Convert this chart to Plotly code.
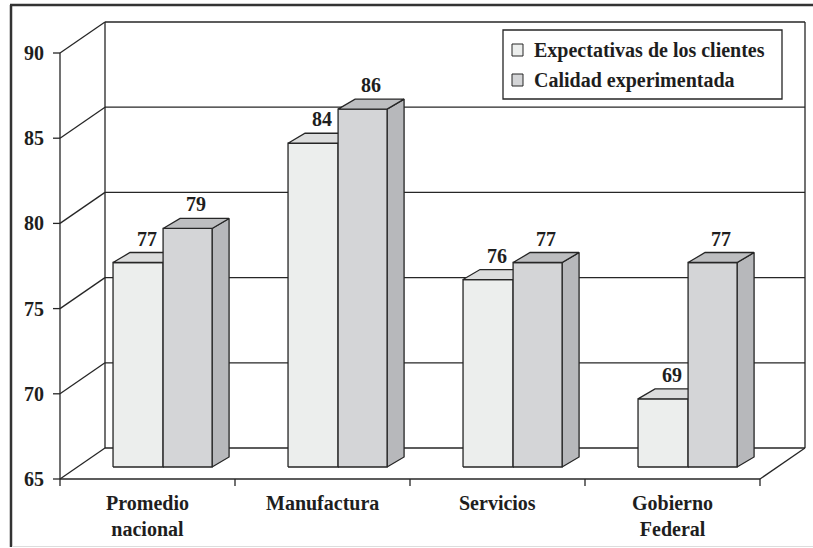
import plotly.graph_objects as go

# ---- data ----
categories = ["Promedio<br>nacional", "Manufactura", "Servicios", "Gobierno<br>Federal"]
expectativas = [77, 84, 76, 69]
calidad = [79, 86, 77, 77]
series_names = ["Expectativas de los clientes", "Calidad experimentada"]
y_ticks = [65, 70, 75, 80, 85, 90]

# ---- geometry of the pseudo-3D box (pixel sizes turned into axis units) ----
W, H = 813, 548
PX_X = 175.0          # pixels per category
PX_Y = 17.04          # pixels per value unit
X0_PX, Y0_PX = 60, 479  # front-left-bottom corner of the box
Y_MIN = y_ticks[0]
Y_MAX = y_ticks[-1]
N = len(categories)

WALL_DX = 45 / PX_X   # depth of the box
WALL_DY = 31 / PX_Y
BAR_LIFT = 12 / PX_Y  # bars stand in the middle of the floor
BAR_DX = 17 / PX_X    # depth of each bar
BAR_DY = 10 / PX_Y
BAR_EDGES = [0.303, 0.589, 0.869]  # left of bar 1, shared edge, right of bar 2

x_range = [-X0_PX / PX_X, (W - X0_PX) / PX_X]
y_range = [Y_MIN - (H - Y0_PX) / PX_Y, Y_MIN + Y0_PX / PX_Y]

LINE = "#262626"
TEXT = "#1e1e1e"
FONT = "Liberation Serif"
FS = 20
FRONT = ["#eceeed", "#d4d5d7"]
TOP = ["#dcdddd", "#bdbec0"]
SIDE = ["#c9cacc", "#b7b8bb"]

fig = go.Figure()


def seg(xs, ys, color=LINE, width=1.3):
    fig.add_trace(go.Scatter(x=xs, y=ys, mode="lines", hoverinfo="skip",
                             line=dict(color=color, width=width), showlegend=False))


def poly(xs, ys, fill):
    fig.add_trace(go.Scatter(x=xs + [xs[0]], y=ys + [ys[0]], mode="lines", fill="toself",
                             fillcolor=fill, hoverinfo="skip",
                             line=dict(color=LINE, width=1.3), showlegend=False))


# back wall and left wall grid
for v in y_ticks:
    seg([WALL_DX, N + WALL_DX], [v + WALL_DY, v + WALL_DY])
    seg([0, WALL_DX], [v, v + WALL_DY])
seg([WALL_DX, WALL_DX], [Y_MIN + WALL_DY, Y_MAX + WALL_DY])
seg([N + WALL_DX, N + WALL_DX], [Y_MIN + WALL_DY, Y_MAX + WALL_DY])
seg([N, N + WALL_DX], [Y_MIN, Y_MIN + WALL_DY])

# bars
for i in range(N):
    for s, vals in enumerate([expectativas, calidad]):
        v = vals[i]
        xl = i + BAR_EDGES[s]
        xr = i + BAR_EDGES[s + 1]
        yb = Y_MIN + BAR_LIFT
        yt = v + BAR_LIFT
        poly([xr, xr + BAR_DX, xr + BAR_DX, xr], [yb, yb + BAR_DY, yt + BAR_DY, yt], SIDE[s])
        poly([xl, xr, xr, xl], [yb, yb, yt, yt], FRONT[s])
        poly([xl, xr, xr + BAR_DX, xl + BAR_DX], [yt, yt, yt + BAR_DY, yt + BAR_DY], TOP[s])
        fig.add_annotation(x=(xl + xr) / 2 + BAR_DX / 2, y=yt + BAR_DY, text=f"<b>{v}</b>",
                           showarrow=False, yanchor="bottom", yshift=1,
                           font=dict(family=FONT, size=FS, color=TEXT))

# front axes
seg([0, 0], [Y_MIN, Y_MAX])
seg([0, N], [Y_MIN, Y_MIN])
for v in y_ticks:
    seg([-7 / PX_X, 0], [v, v])
    fig.add_annotation(x=-14 / PX_X, y=v, text=f"<b>{v}</b>", showarrow=False,
                       xanchor="right", yanchor="middle",
                       font=dict(family=FONT, size=FS, color=TEXT))
for k in range(N + 1):
    seg([k, k], [Y_MIN, Y_MIN - 7 / PX_Y])
for i, c in enumerate(categories):
    fig.add_annotation(x=i + 0.5, y=Y_MIN - 11 / PX_Y, text=f"<b>{c}</b>", showarrow=False,
                       xanchor="center", yanchor="top",
                       font=dict(family=FONT, size=FS, color=TEXT))


# legend box and outer frame, placed in page pixels
def px(x):
    return x / W


def py(y):
    return 1 - y / H


shapes = [
    dict(type="rect", xref="paper", yref="paper", x0=px(503), x1=px(782), y0=py(30), y1=py(99),
         line=dict(color=LINE, width=1.3), fillcolor="white"),
    dict(type="line", xref="paper", yref="paper", x0=px(11), x1=px(11), y0=py(5), y1=py(547),
         line=dict(color="#333", width=2.5)),
    dict(type="line", xref="paper", yref="paper", x0=px(10), x1=1.0, y0=py(5), y1=py(5),
         line=dict(color="#333", width=2.5)),
    dict(type="line", xref="paper", yref="paper", x0=px(12), x1=1.0, y0=py(546.5), y1=py(546.5),
         line=dict(color="#dddddd", width=1)),
]
for s, name in enumerate(series_names):
    yc = 50 + s * 30
    shapes.append(dict(type="rect", xref="paper", yref="paper", x0=px(512), x1=px(523),
                       y0=py(yc - 6), y1=py(yc + 6), fillcolor=FRONT[s],
                       line=dict(color=LINE, width=1)))
    fig.add_annotation(xref="paper", yref="paper", x=px(532), y=py(yc), text=f"<b>{name}</b>",
                       showarrow=False, xanchor="left", yanchor="middle",
                       font=dict(family=FONT, size=FS, color=TEXT))

fig.update_layout(
    width=W, height=H, margin=dict(l=0, r=0, t=0, b=0),
    paper_bgcolor="white", plot_bgcolor="white", showlegend=False,
    shapes=shapes,
    xaxis=dict(range=x_range, visible=False, fixedrange=True),
    yaxis=dict(range=y_range, visible=False, fixedrange=True),
)

fig.write_html("out.html")
